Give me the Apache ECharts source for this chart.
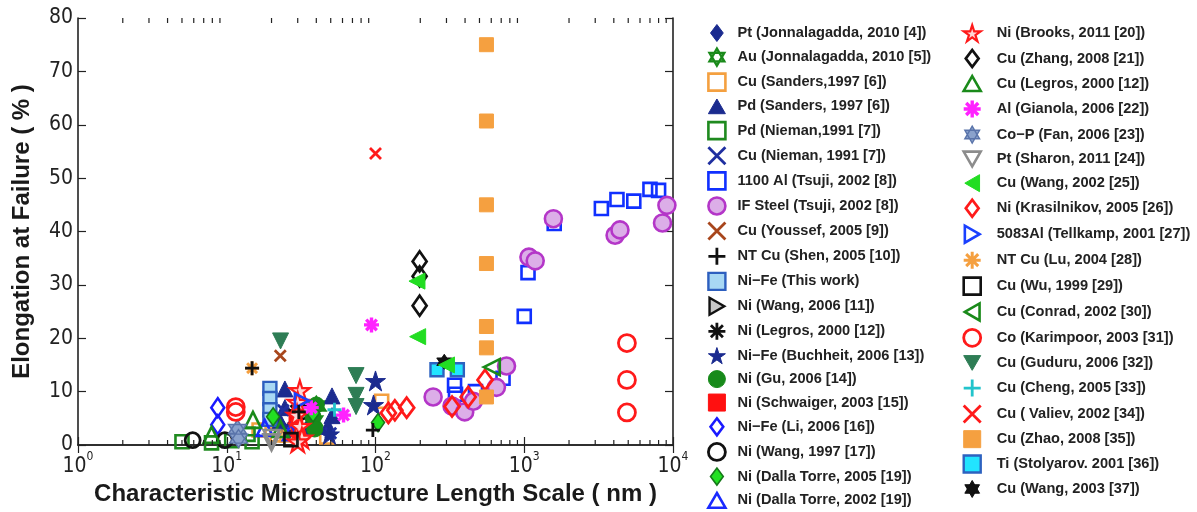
<!DOCTYPE html>
<html>
<head>
<meta charset="utf-8">
<script src="https://cdn.jsdelivr.net/npm/echarts@6/dist/echarts.min.js"></script>
<style>
  html, body { margin: 0; padding: 0; background: #ffffff; }
  #chart { width: 1197px; height: 512px; }
</style>
</head>
<body>
<div id="chart"></div>
<script>
// Elongation at failure vs. characteristic microstructure length scale (nm)

// ---- legend entries, column 1 and column 2 ----
const legendLeft = [
  'Pt (Jonnalagadda, 2010 [4])', 'Au (Jonnalagadda, 2010 [5])', 'Cu (Sanders,1997 [6])',
  'Pd (Sanders, 1997 [6])', 'Pd (Nieman,1991 [7])', 'Cu (Nieman, 1991 [7])',
  '1100 Al (Tsuji, 2002 [8])', 'IF Steel (Tsuji, 2002 [8])', 'Cu (Youssef, 2005 [9])',
  'NT Cu (Shen, 2005 [10])', 'Ni\u2212Fe (This work)', 'Ni (Wang, 2006 [11])',
  'Ni (Legros, 2000 [12])', 'Ni\u2212Fe (Buchheit, 2006 [13])', 'Ni (Gu, 2006 [14])',
  'Ni (Schwaiger, 2003 [15])', 'Ni\u2212Fe (Li, 2006 [16])', 'Ni (Wang, 1997 [17])',
  'Ni (Dalla Torre, 2005 [19])', 'Ni (Dalla Torre, 2002 [19])'
];
const legendRight = [
  'Ni (Brooks, 2011 [20])', 'Cu (Zhang, 2008 [21])', 'Cu (Legros, 2000 [12])',
  'Al (Gianola, 2006 [22])', 'Co\u2212P (Fan, 2006 [23])', 'Pt (Sharon, 2011 [24])',
  'Cu (Wang, 2002 [25])', 'Ni (Krasilnikov, 2005 [26])', '5083Al (Tellkamp, 2001 [27])',
  'NT Cu (Lu, 2004 [28])', 'Cu (Wu, 1999 [29])', 'Cu (Conrad, 2002 [30])',
  'Co (Karimpoor, 2003 [31])', 'Cu (Guduru, 2006 [32])', 'Cu (Cheng, 2005 [33])',
  'Cu ( Valiev, 2002 [34])', 'Cu (Zhao, 2008 [35])', 'Ti (Stolyarov. 2001 [36])',
  'Cu (Wang, 2003 [37])'
];

// ---- measurements: [length scale (nm), elongation (%)] ----
const ptJonnalagadda   = [[23, 3.6], [26, 2.6]];
const auJonnalagadda   = [[40, 7.3], [38, 4.5]];
const cuSanders        = [[16.5, 2.8], [21.8, 1.9], [25.4, 1.9], [47, 1.5], [110, 8.2]];
const pdSanders        = [[24.6, 10.5], [24.6, 7.0], [22.8, 4.5], [35, 3.4], [51, 9.2], [51, 5.5], [48, 3.5]];
const pdNieman         = [[5, 0.6], [7.9, 0.4], [10.8, 0.8], [13.9, 2.0], [14.8, 0.6]];
const cuNieman         = [[50, 2.2], [24, 6.5], [30, 4.0]];
const al1100Tsuji      = [[340, 11.2], [345, 9.5], [470, 10], [720, 12.5], [1000, 24.1], [1060, 32.3],
                          [1590, 41.5], [3300, 44.3], [4200, 46], [5450, 45.7], [7000, 47.9], [8000, 47.7]];
const ifSteelTsuji     = [[244, 9], [327, 7.3], [398, 6.2], [455, 8.2], [650, 10.8], [760, 14.8], [1075, 35.2],
                          [1185, 34.5], [1570, 42.4], [4080, 39.3], [4400, 40.3], [8500, 41.6], [9100, 44.9]];
const cuYoussef        = [[22.9, 16.7]];
const ntCuShen         = [[14.8, 14.4], [30.5, 6.2], [96, 2.8]];
const niFeThisWork     = [[19.5, 10.6], [19.5, 8.7], [19.5, 6.6], [19.5, 4.8]];
const niWang2006       = [[36, 6.2]];
const niLegros         = [[29, 6.5]];
const niFeBuchheit     = [[100, 12], [97, 7.5], [49, 2]];
const niGu             = [[40, 7.5], [38, 5.3], [39, 3]];
const niSchwaiger      = [[30, 2.7], [29, 4.8]];
const niFeLi           = [[8.7, 7], [8.7, 3.8]];
const niWang1997       = [[5.9, 0.9], [9.7, 0.9]];
const niDallaTorre2005 = [[20.5, 5.3], [104, 4.2], [38, 6]];
const niDallaTorre2002 = [[18, 3.2], [27, 2.4]];

const niBrooks         = [[31, 10.2], [30, 8], [29.7, 5.6], [31, 3.5], [32, 1.3], [30, 0.6]];
const cuZhang          = [[198, 34.4], [198, 31.6], [198, 26.1]];
const cuLegros         = [[7.9, 1.9], [15, 4.7], [23, 3]];
const alGianola        = [[37, 7], [61, 5.6], [94, 22.5]];
const coPFan           = [[11.8, 3], [12, 1.2]];
const ptSharon         = [[20, 1.3], [20, 0.5]];
const cuWang2002       = [[190, 30.7], [192, 20.3], [300, 15]];
const niKrasilnikov    = [[122, 6], [135, 6.5], [162, 7], [327, 7.2], [420, 9], [545, 12.2]];
const al5083Tellkamp   = [[32, 8.3]];
const ntCuLu           = [[14.8, 14.4]];
const cuWu             = [[27, 1]];
const cuConrad         = [[605, 14.6]];
const coKarimpoor      = [[11.5, 7.1], [11.5, 6.2], [4900, 19.1], [4900, 12.2], [4900, 6.1]];
const cuGuduru         = [[23, 19.5], [74, 13], [74, 9.3], [74, 7.2]];
const cuCheng          = [[53, 6.6]];
const cuValiev         = [[100, 54.6]];
const cuZhao           = [[557, 75], [557, 60.7], [557, 45], [557, 34], [557, 22.2], [557, 18.2], [557, 9]];
const tiStolyarov      = [[259, 14.1], [355, 14.1]];
const cuWang2003       = [[290, 15.6]];

const seriesValues = [
  ptJonnalagadda, auJonnalagadda, cuSanders, pdSanders, pdNieman, cuNieman, al1100Tsuji,
  ifSteelTsuji, cuYoussef, ntCuShen, niFeThisWork, niWang2006, niLegros, niFeBuchheit, niGu,
  niSchwaiger, niFeLi, niWang1997, niDallaTorre2005, niDallaTorre2002,
  niBrooks, cuZhang, cuLegros, alGianola, coPFan, ptSharon, cuWang2002, niKrasilnikov,
  al5083Tellkamp, ntCuLu, cuWu, cuConrad, coKarimpoor, cuGuduru, cuCheng, cuValiev, cuZhao,
  tiStolyarov, cuWang2003
];

// ---- axis ticks ----
const xMajorTicks = [1, 10, 100, 1000, 10000];
const xMinorTicks = [2, 3, 4, 5, 6, 7, 8, 9, 20, 30, 40, 50, 60, 70, 80, 90,
                     200, 300, 400, 500, 600, 700, 800, 900, 2000, 3000, 4000, 5000, 6000, 7000, 8000, 9000];
const yTicks = [0, 10, 20, 30, 40, 50, 60, 70, 80];

// ---- marker shapes ----
const SYM = {
  star5: 'path://M0,-10L2.23,-3.07L9.51,-3.09L3.61,1.17L5.88,8.09L0,3.8L-5.88,8.09L-3.61,1.17L-9.51,-3.09L-2.23,-3.07Z',
  hexa: 'path://M0,-10L8.66,5L-8.66,5Z M0,10L-8.66,-5L8.66,-5Z',
  cross: 'path://M-10,-10L10,10M-10,10L10,-10',
  plus: 'path://M0,-10L0,10M-10,0L10,0',
  aster: 'path://M0,-10L0,10M-10,0L10,0M-7.07,-7.07L7.07,7.07M-7.07,7.07L7.07,-7.07',
  up: 'path://M0,-8.66L10,8.66L-10,8.66Z',
  down: 'path://M-10,-8.66L10,-8.66L0,8.66Z',
  left: 'path://M-8.66,0L8.66,-10L8.66,10Z',
  right: 'path://M8.66,0L-8.66,-10L-8.66,10Z',
  diamond: 'path://M0,-10L7.5,0L0,10L-7.5,0Z',
  square: 'path://M-10,-10L10,-10L10,10L-10,10Z',
  circle: 'circle'
};
const NONE = 'rgba(255,255,255,0)';

// marker look per series: [symbol, size, fill, stroke, lineWidth, z]
const markerLooks = [
  [SYM.diamond, [13, 18], '#1b2b8f', '#1b2b8f', 1, 3],
  [SYM.hexa, 18, NONE, '#1a8a1a', 2.4, 3],
  [SYM.square, 13, NONE, '#f4a040', 2.6, 3],
  [SYM.up, 16, '#1b2b8f', '#1b2b8f', 1, 3],
  [SYM.square, 13, NONE, '#1f8a1f', 2.6, 3],
  [SYM.cross, 11, NONE, '#1f2fa0', 2.8, 3],
  [SYM.square, 13, NONE, '#1030ff', 2.6, 3],
  [SYM.circle, 17, '#dcaee8', '#b436c8', 2.6, 3],
  [SYM.cross, 11, NONE, '#a8461c', 2.8, 3],
  [SYM.plus, 14, NONE, '#111111', 2.8, 5],
  [SYM.square, 13, '#a8d8f4', '#2d5fbf', 2.4, 3],
  [SYM.right, 16, '#c8c8c8', '#111111', 2.4, 3],
  [SYM.aster, 14, NONE, '#111111', 2.8, 3],
  [SYM.star5, 20, '#1b2b8f', '#1b2b8f', 1, 3],
  [SYM.circle, 16, '#178a1a', '#178a1a', 1, 3],
  [SYM.square, 13, '#ff1010', '#ff1010', 1, 3],
  [SYM.diamond, [13, 19], NONE, '#1a1aff', 2.6, 3],
  [SYM.circle, 15, NONE, '#111111', 2.8, 3],
  [SYM.diamond, [13, 18], '#22e022', '#16781a', 1.6, 3],
  [SYM.up, 16, NONE, '#1a2aff', 2.6, 3],

  [SYM.star5, 20, '#ffd6d6', '#ff1a1a', 2.2, 3],
  [SYM.diamond, [14, 20], NONE, '#111111', 2.8, 3],
  [SYM.up, 16, NONE, '#1a8a1a', 2.6, 3],
  [SYM.aster, 15, NONE, '#ff22ff', 3.4, 3],
  [SYM.hexa, 18, '#8aa2cc', '#5a74aa', 1.4, 3],
  [SYM.down, 16, NONE, '#8c8c8c', 2.6, 3],
  [SYM.left, 16, '#22dd22', '#22dd22', 1, 4],
  [SYM.diamond, [15, 20], NONE, '#ff1a1a', 2.8, 3],
  [SYM.right, 14, NONE, '#1a40ff', 2.6, 3],
  [SYM.aster, 14, NONE, '#f5a040', 3, 3],
  [SYM.square, 13, NONE, '#111111', 2.6, 3],
  [SYM.left, 16, NONE, '#1a8a1a', 2.6, 3],
  [SYM.circle, 17, NONE, '#ff1a1a', 2.8, 3],
  [SYM.down, 16, '#2e7d55', '#2e7d55', 1, 3],
  [SYM.plus, 14, NONE, '#22c4cc', 2.8, 3],
  [SYM.cross, 11, NONE, '#ff1a1a', 2.8, 3],
  [SYM.square, 14, '#f5a040', '#f5a040', 1, 3],
  [SYM.square, 13, '#22e4ff', '#2d62c0', 2.4, 3],
  [SYM.hexa, 15, '#111111', '#111111', 1, 3]
];

const seriesNames = legendLeft.concat(legendRight);

const scatterSeries = seriesNames.map((name, i) => {
  const [symbol, size, fill, stroke, lw, z] = markerLooks[i];
  return {
    name: name,
    type: 'scatter',
    data: seriesValues[i],
    symbol: symbol,
    symbolSize: size,
    symbolKeepAspect: false,
    clip: false,
    itemStyle: { color: fill, borderColor: stroke, borderWidth: lw, opacity: 1 },
    emphasis: { disabled: true },
    z: z
  };
});

// minor log ticks drawn on the bottom and top frame lines
const minorTickSeries = {
  type: 'custom',
  silent: true,
  clip: false,
  z: 6,
  data: xMinorTicks.map(v => [v, yTicks[0]]),
  encode: { x: 0, y: 1 },
  renderItem: function (params, api) {
    const v = api.value(0);
    const b = api.coord([v, yTicks[0]]);
    const t = api.coord([v, yTicks[yTicks.length - 1]]);
    const st = { stroke: '#222222', lineWidth: 1.2 };
    return {
      type: 'group',
      children: [
        { type: 'line', shape: { x1: b[0], y1: b[1], x2: b[0], y2: b[1] - 5 }, style: st },
        { type: 'line', shape: { x1: t[0], y1: t[1], x2: t[0], y2: t[1] + 5 }, style: st }
      ]
    };
  }
};

const tickFont = '"Liberation Sans Narrow", "DejaVu Sans Condensed", "Liberation Sans", sans-serif';
const titleFont = '"Liberation Sans", Arial, sans-serif';
const frameLine = { show: true, lineStyle: { color: '#222222', width: 1.6 } };
const innerTick = { show: true, inside: true, length: 8, lineStyle: { color: '#222222', width: 1.2 } };

function legendText(padLeft) {
  return {
    fontFamily: titleFont, fontSize: 14.6, fontWeight: 'bold', color: '#222222',
    lineHeight: 18, padding: [0, 0, 0, padLeft]
  };
}

const chart = echarts.init(document.getElementById('chart'), null, { renderer: 'canvas' });
chart.setOption({
  animation: false,
  backgroundColor: '#ffffff',
  grid: { left: 78, right: 524, top: 18, bottom: 67, containLabel: false },
  xAxis: [
    {
      type: 'log', logBase: 10, min: xMajorTicks[0], max: xMajorTicks[xMajorTicks.length - 1],
      position: 'bottom',
      name: 'Characteristic Microstructure Length Scale ( nm )',
      nameLocation: 'middle', nameGap: 37,
      nameTextStyle: { fontFamily: titleFont, fontSize: 24, fontWeight: 'bold', color: '#1a1a1a' },
      axisLine: frameLine, axisTick: innerTick, splitLine: { show: false },
      axisLabel: {
        margin: 6,
        formatter: v => '{b|10}{s|' + Math.round(Math.log10(v)) + '}',
        rich: {
          b: { fontFamily: tickFont, fontSize: 21, color: '#222222', lineHeight: 26, verticalAlign: 'bottom' },
          s: { fontFamily: tickFont, fontSize: 12, color: '#222222', lineHeight: 26, verticalAlign: 'top' }
        }
      }
    },
    {
      type: 'log', logBase: 10, min: xMajorTicks[0], max: xMajorTicks[xMajorTicks.length - 1],
      position: 'top', axisLine: frameLine, axisTick: innerTick,
      axisLabel: { show: false }, splitLine: { show: false }
    }
  ],
  yAxis: [
    {
      type: 'value', min: yTicks[0], max: yTicks[yTicks.length - 1], interval: 10,
      position: 'left',
      name: 'Elongation at Failure ( % )',
      nameLocation: 'middle', nameGap: 44,
      nameTextStyle: { fontFamily: titleFont, fontSize: 24, fontWeight: 'bold', color: '#1a1a1a' },
      axisLine: frameLine, axisTick: innerTick, splitLine: { show: false },
      axisLabel: { margin: 5, fontFamily: tickFont, fontSize: 21, color: '#222222' }
    },
    {
      type: 'value', min: yTicks[0], max: yTicks[yTicks.length - 1], interval: 10,
      position: 'right', axisLine: frameLine, axisTick: innerTick,
      axisLabel: { show: false }, splitLine: { show: false }
    }
  ],
  legend: [
    {
      data: legendLeft, orient: 'vertical', left: 702, top: 19, height: 520,
      itemWidth: 17, itemHeight: 17, itemGap: 5.45,
      textStyle: legendText(7), selectedMode: false,
      itemStyle: { borderWidth: 'inherit' }
    },
    {
      data: legendRight, orient: 'vertical', left: 957, top: 19, height: 520,
      itemWidth: 17, itemHeight: 17, itemGap: 6.2,
      textStyle: legendText(11), selectedMode: false,
      itemStyle: { borderWidth: 'inherit' }
    }
  ],
  series: scatterSeries.concat([minorTickSeries])
});
</script>
</body>
</html>
